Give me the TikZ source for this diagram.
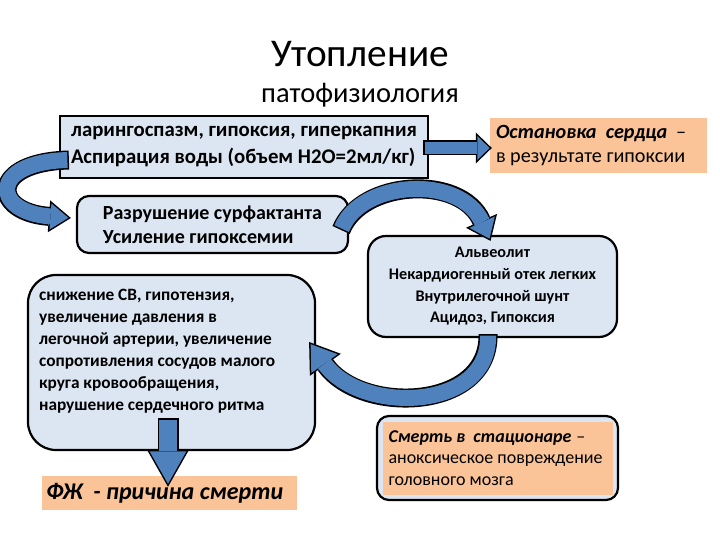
\documentclass[tikz,border=0pt]{standalone}
\usepackage{fontspec}
\setmainfont{Carlito}
\usepackage{tikz}
\usetikzlibrary{arrows.meta,positioning,calc}
\definecolor{boxblue}{RGB}{220,230,242}
\definecolor{arrowblue}{RGB}{79,129,189}
\definecolor{peach}{RGB}{250,196,152}
\newcommand\fsz[2]{\fontsize{#1}{#2}\selectfont}
% block arrow: shaft width, head length, head width, path
\newcommand\blockarrow[4]{%
  \pgfmathsetmacro\arwrim{#1+3}%
  \pgfmathsetmacro\arwback{1.5/sin(atan(#3/(2*#2)))}%
  \pgfmathsetmacro\arwlen{#2-\arwback-1.5}%
  \pgfmathsetmacro\arwwid{#3*\arwlen/#2}%
  \draw[draw=black,line width=\arwrim pt,-{Triangle[length=#2pt,width=#3pt,line width=0pt]}] #4;
  \draw[draw=arrowblue,line width=#1pt,shorten <=1.5pt,shorten >=\arwback pt,-{Triangle[length=\arwlen pt,width=\arwwid pt,line width=0pt]}] #4;
}

\begin{document}
\begin{tikzpicture}[x=1pt,y=-1pt,
  box/.style={draw=black,line width=2.2pt,fill=boxblue,inner sep=0pt},
  roundbox/.style={box,rounded corners=#1},
  note/.style={fill=peach,inner sep=0pt,align=flush left},
  body/.style={inner sep=0pt,align=left}]
  \useasboundingbox (0,0) rectangle (720,540);
  % title
  \node[font=\fsz{39.3}{42}] (title) at (360,54) {Утопление};
  \node[font=\fsz{28.5}{30}] (subtitle) at (360,95) {патофизиология};
  % boxes
  \node[box,minimum width=368pt,minimum height=62pt,align=left,font=\fsz{20.8}{27}\bfseries] (larynx) at (244,147)
    {ларингоспазм, гипоксия, гиперкапния\\ Аспирация воды (объем H2O=2мл/кг)};
  \node[note,minimum width=217pt,minimum height=55pt,text width=205pt,inner xsep=6pt,font=\fsz{20.2}{24.5}] (stop) at (598.5,145.5)
    {\textbf{\textit{Остановка\ \ сердца}}\hspace{9pt}–\\ в результате гипоксии};
  \node[roundbox=12pt,minimum width=271pt,minimum height=57pt,align=left,font=\fsz{20}{24}\bfseries] (surf) at (212.5,224.5)
    {Разрушение сурфактанта\\ Усиление гипоксемии};
  \node[roundbox=18pt,minimum width=249pt,minimum height=101pt,align=center,font=\fsz{16.2}{21.7}\bfseries] (alv) at (492.5,286.5)
    {Альвеолит\\ Некардиогенный отек легких\\ Внутрилегочной шунт\\ Ацидоз, Гипоксия};
  \node[roundbox=28pt,minimum width=287pt,minimum height=175pt] (heart) at (171.5,362.5) {};
  \node[body,anchor=north west,font=\fsz{17.3}{22}\bfseries] (hearttxt) at ([xshift=12pt,yshift=-15pt]heart.north west)
    {снижение СВ, гипотензия,\\ увеличение давления в\\ легочной артерии, увеличение\\ сопротивления сосудов малого\\ круга кровообращения,\\ нарушение сердечного ритма};
  \node[note,minimum width=255pt,minimum height=34pt,text width=247pt,inner xsep=4pt,font=\fsz{24}{27}\bfseries\itshape] (fatal) at (169.5,493)
    {ФЖ\ \ - причина смерти};
  \node[roundbox=12pt,minimum width=241pt,minimum height=84pt] (hosp) at (497.5,458) {};
  \node[note,minimum width=230pt,minimum height=73pt,text width=218pt,inner xsep=6pt,font=\fsz{18}{21.5}] (hosptxt) at (hosp)
    {\textbf{\textit{Смерть в\ \ стационаре}}\hspace{5pt}–\\ аноксическое повреждение\\ головного мозга};
  % arrows
  \blockarrow{16}{22}{32}{([xshift=10pt,yshift=-13pt]larynx.west) .. controls +(-80,2) and +(-80,-6) .. ([xshift=-5pt,yshift=6.5pt]surf.west)}
  \blockarrow{16}{22}{34}{([xshift=-8pt,yshift=-5.5pt]surf.east) .. controls +(20,-50) and +(-30,-67) .. ([xshift=-2pt,yshift=-6pt]alv.north)}
  \blockarrow{16}{28}{38}{([xshift=-4.5pt,yshift=4pt]alv.south) .. controls +(2,77) and +(52,73) .. ([xshift=-7pt,yshift=20.5pt]heart.east)}
  \blockarrow{12}{16}{31}{([xshift=-6pt,yshift=-1pt]larynx.east) -- ([xshift=2pt,yshift=-2.5pt]stop.west)}
  \blockarrow{18}{37}{42}{([xshift=-3.5pt,yshift=33pt]heart.south) -- ([xshift=-1.5pt,yshift=-11pt]fatal.north)}
\end{tikzpicture}
\end{document}
